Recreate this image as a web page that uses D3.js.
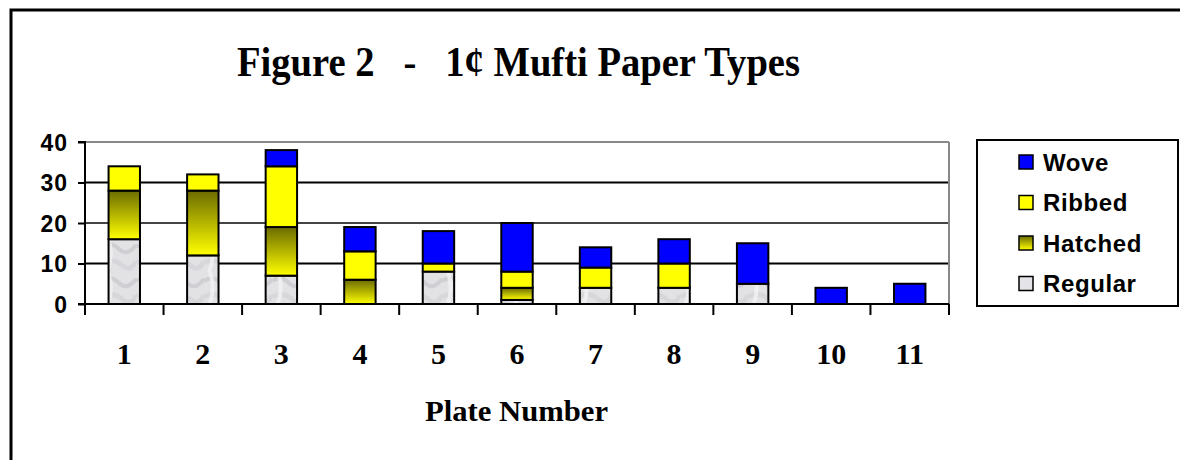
<!DOCTYPE html>
<html><head><meta charset="utf-8">
<script src="https://cdn.jsdelivr.net/npm/d3@7"></script>
<style>body{margin:0;background:#fff}svg{display:block}</style>
</head><body>
<script>
const categories = ["1","2","3","4","5","6","7","8","9","10","11"];
const seriesNames = ["Regular","Hatched","Ribbed","Wove"];
const regular = [16,12,7,0,8,1,4,4,5,0,0];
const hatched = [12,16,12,6,0,3,0,0,0,0,0];
const ribbed  = [6,4,15,7,2,4,5,6,0,0,0];
const wove    = [0,0,4,6,8,12,5,6,10,4,5];
const yTicks = [0,10,20,30,40];
const legendOrder = ["Wove","Ribbed","Hatched","Regular"];

const W = 1180, H = 460;
const svg = d3.select("body").append("svg").attr("width", W).attr("height", H);
const defs = svg.append("defs");
const hg = defs.append("linearGradient").attr("id","hatchGrad").attr("x1",0).attr("y1",0).attr("x2",0).attr("y2",1);
hg.append("stop").attr("offset","0%").attr("stop-color","#6b6b00");
hg.append("stop").attr("offset","100%").attr("stop-color","#ffff00");
const pat = defs.append("pattern").attr("id","marble").attr("patternUnits","userSpaceOnUse").attr("width",34).attr("height",34);
pat.append("rect").attr("width",34).attr("height",34).attr("fill","#e2e2e5");
pat.append("path").attr("d","M0 9 Q9 3 17 11 T34 7").attr("stroke","#c8c8cc").attr("stroke-width",4).attr("fill","none").attr("opacity",0.7);
pat.append("path").attr("d","M0 25 Q11 19 20 27 T34 23").attr("stroke","#d0d0d4").attr("stroke-width",5).attr("fill","none").attr("opacity",0.6);
pat.append("path").attr("d","M6 0 Q12 17 5 34").attr("stroke","#f2f2f4").attr("stroke-width",4).attr("fill","none").attr("opacity",0.8);

const fills = {Wove:"#0000ff", Ribbed:"#ffff00", Hatched:"url(#hatchGrad)", Regular:"url(#marble)"};
const legendFills = {Wove:"#0000ff", Ribbed:"#ffff00", Hatched:"url(#hatchGrad)", Regular:"#e4e4e8"};

// outer frame
svg.append("path").attr("d","M11 460 L11 10 L1180 10").attr("fill","none").attr("stroke","#000").attr("stroke-width",3);

// title
svg.append("text").attr("x",237).attr("y",76)
  .style("white-space","pre")
  .attr("textLength",563).attr("lengthAdjust","spacingAndGlyphs")
  .attr("font-family","'Liberation Serif','Times New Roman',serif").attr("font-weight","bold").attr("font-size",43)
  .text("Figure 2   -   1\u00a2 Mufti Paper Types");

const x0 = 85, x1 = 949, y0 = 304, y1 = 142;
const x = d3.scaleBand().domain(categories).range([x0,x1]).paddingInner(0.6).paddingOuter(0.3);
const y = d3.scaleLinear().domain([0,40]).range([y0,y1]);
const step = x.step();

// gridlines
const g = svg.append("g");
g.selectAll("line.grid").data(yTicks.filter(d=>d>0)).join("line")
  .attr("x1",x0).attr("x2",x1).attr("y1",d=>y(d)).attr("y2",d=>y(d))
  .attr("stroke",d=>d===40?"#888":(d===20?"#444":"#000")).attr("stroke-width",2);
g.append("line").attr("x1",x1).attr("x2",x1).attr("y1",y1).attr("y2",y0).attr("stroke","#888").attr("stroke-width",2);

// stacked bars
const table = categories.map((c,i)=>({cat:c, Regular:regular[i], Hatched:hatched[i], Ribbed:ribbed[i], Wove:wove[i]}));
const stack = d3.stack().keys(seriesNames)(table);
stack.forEach(layer=>{
  svg.append("g").selectAll("rect").data(layer.filter(d=>d[1]-d[0]>0)).join("rect")
    .attr("x",d=>x(d.data.cat)).attr("width",x.bandwidth())
    .attr("y",d=>y(d[1])).attr("height",d=>y(d[0])-y(d[1]))
    .attr("fill",fills[layer.key]).attr("stroke","#000").attr("stroke-width",2);
});

// y axis
const yAxis = d3.axisLeft(y).tickValues(yTicks).tickSize(7).tickPadding(10);
const ya = svg.append("g").attr("transform",`translate(${x0},0)`).call(yAxis);
ya.select(".domain").attr("stroke","#000").attr("stroke-width",2).attr("d",`M-7,${y1}H0V${y0}H-7`);
ya.selectAll(".tick line").attr("stroke","#000").attr("stroke-width",2);
ya.selectAll(".tick text").attr("font-family","Arial,'Liberation Sans',sans-serif").attr("font-weight","bold").attr("font-size",23).attr("letter-spacing","1px").attr("fill","#000").attr("dy","0.36em");

// x axis baseline
svg.append("line").attr("x1",x0).attr("x2",x1).attr("y1",y0).attr("y2",y0).attr("stroke","#000").attr("stroke-width",2);
const bounds = categories.map(c=>x(c)-step*0.3).concat([x1]);
svg.append("g").selectAll("line").data(bounds).join("line")
  .attr("x1",d=>d).attr("x2",d=>d).attr("y1",y0).attr("y2",y0+11).attr("stroke","#000").attr("stroke-width",2);
svg.append("g").selectAll("text").data(categories).join("text")
  .attr("x",d=>x(d)+x.bandwidth()/2).attr("y",364).attr("text-anchor","middle")
  .attr("font-family","'Liberation Serif','Times New Roman',serif").attr("font-weight","bold").attr("font-size",30)
  .text(d=>d);
svg.append("text").attr("x",425).attr("y",421)
  .attr("textLength",183).attr("lengthAdjust","spacingAndGlyphs")
  .attr("font-family","'Liberation Serif','Times New Roman',serif").attr("font-weight","bold").attr("font-size",29)
  .text("Plate Number");

// legend
const leg = svg.append("g");
leg.append("rect").attr("x",977).attr("y",140).attr("width",201).attr("height",166).attr("fill","#fff").attr("stroke","#000").attr("stroke-width",2);
const rows = leg.selectAll("g.row").data(legendOrder).join("g").attr("transform",(d,i)=>`translate(1019,${162+i*40.5})`);
rows.append("rect").attr("x",0).attr("y",-7).attr("width",14).attr("height",14).attr("fill",d=>legendFills[d]).attr("stroke","#000").attr("stroke-width",1.5);
rows.append("text").attr("x",24).attr("y",8.5).attr("font-family","Arial,'Liberation Sans',sans-serif").attr("font-weight","bold").attr("font-size",24).attr("letter-spacing","0.6px").text(d=>d);
</script>
</body></html>
